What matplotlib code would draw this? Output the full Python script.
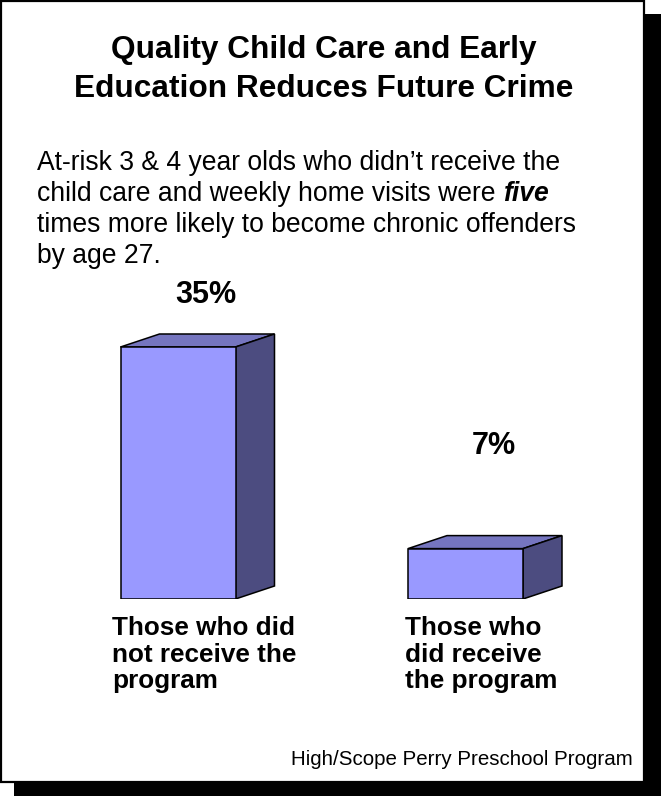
import matplotlib
matplotlib.use("Agg")
import matplotlib.pyplot as plt
from matplotlib.patches import Rectangle, Polygon

W, H, DPI = 661, 796, 100

title_lines = ["Quality Child Care and Early", "Education Reduces Future Crime"]
body_lines = [
    "At-risk 3 & 4 year olds who didn\u2019t receive the",
    "child care and weekly home visits were",
    "times more likely to become chronic offenders",
    "by age 27.",
]
emphasis = "five"  # bold italic word at the end of body line 2
categories = ["Those who did\nnot receive the\nprogram",
              "Those who\ndid receive\nthe program"]
values = [35, 7]
value_labels = ["35%", "7%"]
source = "High/Scope Perry Preschool Program"

FRONT = "#9999ff"
TOP = "#7575bf"
SIDE = "#4c4c80"

plt.rcParams["font.family"] = ["Liberation Sans", "DejaVu Sans"]

fig = plt.figure(figsize=(W / DPI, H / DPI), dpi=DPI)


def fx(x):
    return x / W


def fy(y):
    return 1 - y / H


# frame + drop shadow
fig.patches.append(Rectangle((fx(14), 0), (661 - 14) / W, (796 - 14) / H,
                             transform=fig.transFigure, facecolor="black",
                             edgecolor="none", zorder=-20))
fig.patches.append(Rectangle((fx(1), fy(782)), 643 / W, 781 / H,
                             transform=fig.transFigure, facecolor="white",
                             edgecolor="black", linewidth=1.6, zorder=-10))

# title
for txt, base in zip(title_lines, [58, 97]):
    fig.text(fx(324), fy(base), txt, ha="center", va="baseline",
             fontsize=22.8, fontweight="bold")

# body text
body_base = [170, 201, 232, 263]
body_fs = 19.1
body_txt = []
for txt, base in zip(body_lines, body_base):
    body_txt.append(fig.text(fx(37), fy(base), txt, ha="left", va="baseline",
                             fontsize=body_fs))

fig.canvas.draw()
r = fig.canvas.get_renderer()
probe1 = fig.text(0, 0, "a a", fontsize=body_fs)
probe2 = fig.text(0, 0, "aa", fontsize=body_fs)
space_w = probe1.get_window_extent(r).width - probe2.get_window_extent(r).width
probe1.remove()
probe2.remove()
x_end = body_txt[1].get_window_extent(r).x1 + space_w
fig.text(x_end / W, fy(body_base[1]), emphasis, ha="left", va="baseline",
         fontsize=body_fs, fontweight="bold", fontstyle="italic")

# bar chart axes: y=0 at px 599, 7.2 px per percent; bar centres at 178 / 465.5 px
px_per_x = 287.5
px_per_y = 7.2
ax_left, ax_right, ax_bottom = 40, 620, 599
ymax = 45
ax = fig.add_axes([fx(ax_left), fy(ax_bottom), (ax_right - ax_left) / W,
                   ymax * px_per_y / H])
ax.set_xlim((ax_left - 178) / px_per_x, (ax_right - 178) / px_per_x)
ax.set_ylim(0, ymax)
ax.axis("off")
ax.patch.set_alpha(0)

xs = list(range(len(values)))
bw = 0.4
dx = 39 / px_per_x
dy = 13 / px_per_y

ax.bar(xs, values, width=bw, color=FRONT, edgecolor="black", linewidth=1.1,
       zorder=3)
for x, v in zip(xs, values):
    l, rr = x - bw / 2, x + bw / 2
    ax.add_patch(Polygon([(l, v), (l + dx, v + dy), (rr + dx, v + dy), (rr, v)],
                         closed=True, facecolor=TOP, edgecolor="black",
                         linewidth=1.1, zorder=2))
    ax.add_patch(Polygon([(rr, 0), (rr + dx, dy), (rr + dx, v + dy), (rr, v)],
                         closed=True, facecolor=SIDE, edgecolor="black",
                         linewidth=1.1, zorder=2))

label_pad = [6.1, 13.1]
for x, v, lab, pad in zip(xs, values, value_labels, label_pad):
    ax.text(x + dx / 2 + 0.03, v + pad, lab, ha="center", va="baseline",
            fontsize=22, fontweight="bold", clip_on=False)

# category labels
cat_left = [112, 405]
cat_base = [635, 661.5, 688]
for cat, left in zip(categories, cat_left):
    for line, base in zip(cat.split("\n"), cat_base):
        fig.text(fx(left), fy(base), line, ha="left", va="baseline",
                 fontsize=18.8, fontweight="bold")

fig.text(fx(633), fy(765), source, ha="right", va="baseline", fontsize=14.8)

fig.savefig("out.png", dpi=DPI)
